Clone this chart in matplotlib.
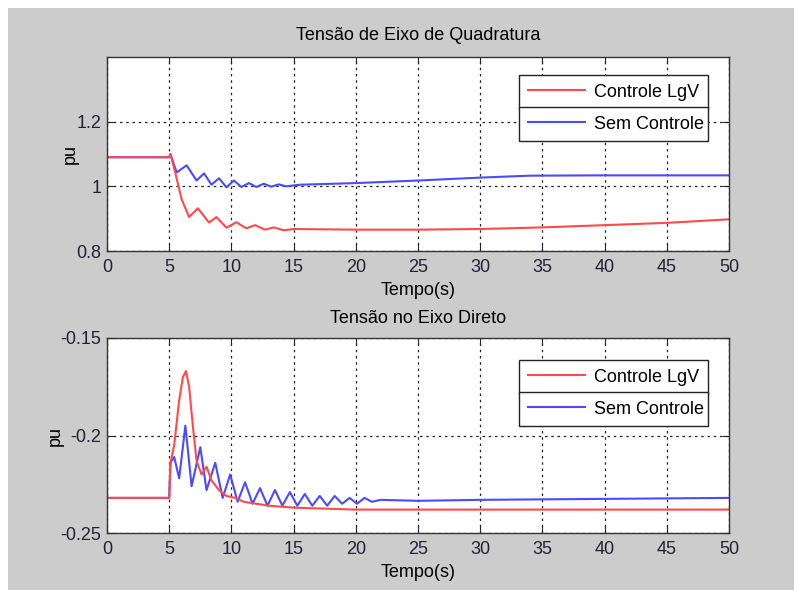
import matplotlib
matplotlib.use("Agg")
import matplotlib.pyplot as plt
from matplotlib.patches import Rectangle

# --- data ---
t_q_lgv = [0, 5.0, 5.1, 5.5, 6.0, 6.6, 7.3, 8.2, 8.8, 9.6, 10.4, 11.2, 11.9, 12.7,
           13.4, 14.2, 15, 20, 25, 30, 35, 40, 45, 50]
v_q_lgv = [1.09, 1.09, 1.10, 1.04, 0.96, 0.905, 0.932, 0.888, 0.905, 0.872, 0.889,
           0.870, 0.880, 0.866, 0.873, 0.864, 0.868, 0.866, 0.866, 0.868, 0.873,
           0.880, 0.887, 0.898]

t_q_sem = [0, 5.0, 5.1, 5.6, 6.4, 7.2, 7.8, 8.4, 9.0, 9.6, 10.2, 10.8, 11.4, 12.0,
           12.6, 13.2, 13.8, 14.4, 15.5, 20, 25, 30, 34, 40, 50]
v_q_sem = [1.09, 1.09, 1.10, 1.043, 1.065, 1.018, 1.04, 1.005, 1.025, 0.997, 1.018,
           0.998, 1.01, 0.998, 1.008, 0.999, 1.006, 1.0, 1.005, 1.01, 1.018, 1.027,
           1.033, 1.034, 1.034]

t_d_lgv = [0, 5.0, 5.1, 5.4, 5.8, 6.1, 6.35, 6.6, 6.9, 7.2, 7.6, 8.0, 8.4, 9.0,
           9.6, 10.3, 11, 12, 13, 15, 20, 50]
v_d_lgv = [-0.232, -0.232, -0.214, -0.205, -0.182, -0.170, -0.167, -0.175, -0.195,
           -0.213, -0.220, -0.216, -0.223, -0.228, -0.231, -0.232, -0.234, -0.235,
           -0.236, -0.237, -0.238, -0.238]

t_d_sem = [0, 5.0, 5.1, 5.4, 5.8, 6.3, 6.8, 7.5, 8.0, 8.7, 9.3, 9.9, 10.5, 11.1,
           11.7, 12.3, 12.9, 13.5, 14.1, 14.7, 15.3, 15.9, 16.5, 17.1, 17.7, 18.3,
           18.9, 19.5, 20.1, 20.7, 21.3, 22, 25, 30, 40, 50]
v_d_sem = [-0.232, -0.232, -0.214, -0.211, -0.222, -0.195, -0.226, -0.206, -0.228,
           -0.214, -0.232, -0.220, -0.234, -0.224, -0.235, -0.227, -0.236, -0.228,
           -0.236, -0.229, -0.236, -0.230, -0.236, -0.231, -0.236, -0.231, -0.235,
           -0.232, -0.235, -0.232, -0.234, -0.233, -0.2335, -0.233, -0.2325, -0.232]

x_ticks = list(range(0, 51, 5))
q_ticks = [0.8, 1, 1.2]
d_ticks = [-0.25, -0.2, -0.15]
q_ticklabels = ["0.8", "1", "1.2"]
d_ticklabels = ["-0.25", "-0.2", "-0.15"]

plt.rcParams['font.family'] = ['Liberation Sans', 'DejaVu Sans']
plt.rcParams['axes.unicode_minus'] = False
fs = 13
red = '#ff4a4a'
blue = '#4a4aff'

fig = plt.figure(figsize=(7.94, 5.90), dpi=100)
fig.patch.set_facecolor('white')
# grey MATLAB-like figure area
fig.patches.append(Rectangle((8 / 794, 0), 1, 1 - 8 / 590, transform=fig.transFigure,
                             facecolor='#cccccc', edgecolor='none', zorder=-10))

ax1 = fig.add_axes([107 / 794, 1 - 251 / 590, 622 / 794, 194 / 590])
ax2 = fig.add_axes([107 / 794, 1 - 533 / 590, 622 / 794, 195 / 590])


def style(ax, yticks, ylabels, ylim):
    ax.set_facecolor('white')
    ax.set_xlim(0, 50)
    ax.set_ylim(*ylim)
    ax.set_xticks(x_ticks)
    ax.set_yticks(yticks)
    ax.set_yticklabels(ylabels)
    ax.tick_params(direction='in', top=True, right=True, length=5,
                   labelsize=fs, colors='#222233')
    ax.tick_params(axis='x', pad=6)
    ax.tick_params(axis='y', pad=4)
    ax.grid(True, color='#222222', linestyle=(0, (2, 3)), linewidth=0.9)
    for s in ax.spines.values():
        s.set_linewidth(1.0)
        s.set_color('#333333')
    ax.set_xlabel('Tempo(s)', fontsize=fs, labelpad=4)
    ax.set_ylabel('pu', fontsize=fs, labelpad=-2)


def two_legends(ax, h_red, h_blue, top1, top2):
    kw = dict(loc='upper left', mode='expand', borderaxespad=0, fontsize=fs,
              fancybox=False, framealpha=1, edgecolor='#222222', borderpad=0.48,
              handlelength=3.2, handletextpad=0.45, bbox_transform=fig.transFigure)
    leg1 = ax.legend(handles=[h_red], bbox_to_anchor=(519 / 794, top1, 189 / 794, 0), **kw)
    ax.add_artist(leg1)
    leg2 = ax.legend(handles=[h_blue], bbox_to_anchor=(519 / 794, top2, 189 / 794, 0), **kw)
    for lg in (leg1, leg2):
        lg.get_frame().set_linewidth(1.0)


# top: quadrature axis voltage
b1, = ax1.plot(t_q_sem, v_q_sem, color=blue, lw=1.5, label='Sem Controle')
r1, = ax1.plot(t_q_lgv, v_q_lgv, color=red, lw=1.5, label='Controle LgV')
style(ax1, q_ticks, q_ticklabels, (0.8, 1.4))
ax1.set_title('Tensão de Eixo de Quadratura', fontsize=fs, pad=12)
two_legends(ax1, r1, b1, 1 - 75 / 590, 1 - 107 / 590)

# bottom: direct axis voltage
b2, = ax2.plot(t_d_sem, v_d_sem, color=blue, lw=1.5, label='Sem Controle')
r2, = ax2.plot(t_d_lgv, v_d_lgv, color=red, lw=1.5, label='Controle LgV')
style(ax2, d_ticks, d_ticklabels, (-0.25, -0.15))
ax2.set_title('Tensão no Eixo Direto', fontsize=fs, pad=11)
two_legends(ax2, r2, b2, 1 - 360 / 590, 1 - 392 / 590)

fig.savefig('out.png', dpi=100)
